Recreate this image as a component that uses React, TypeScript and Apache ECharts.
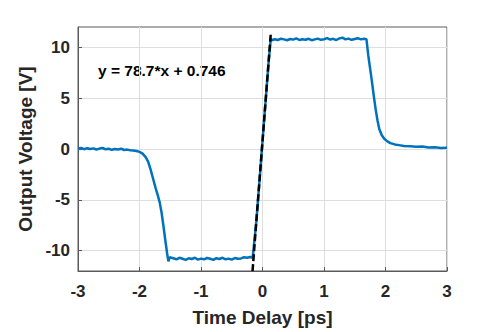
import React, { useEffect, useRef } from "react";
import * as echarts from "echarts";

const timePs = [
  -3.0, -2.95, -2.9, -2.85, -2.8, -2.75, -2.7, -2.65, -2.6, -2.55, -2.5, -2.45, -2.4, -2.35, -2.3, -2.25,
  -2.2, -2.15, -2.1, -2.05, -2.0, -1.95, -1.9, -1.86, -1.82, -1.78, -1.74, -1.7, -1.67, -1.64, -1.61,
  -1.58, -1.55, -1.53, -1.51, -1.45, -1.4, -1.35, -1.3, -1.25, -1.2, -1.15, -1.1, -1.05, -1.0, -0.95,
  -0.9, -0.85, -0.8, -0.75, -0.7, -0.65, -0.6, -0.55, -0.5, -0.45, -0.4, -0.35, -0.3, -0.25, -0.2,
  -0.16, -0.1, -0.05, 0.0, 0.05, 0.1, 0.135, 0.15, 0.2, 0.25, 0.3, 0.35, 0.4, 0.45, 0.5, 0.55, 0.6,
  0.65, 0.7, 0.75, 0.8, 0.85, 0.9, 0.95, 1.0, 1.05, 1.1, 1.15, 1.2, 1.25, 1.3, 1.35, 1.4, 1.45, 1.5,
  1.55, 1.6, 1.65, 1.69, 1.72, 1.75, 1.78, 1.81, 1.84, 1.87, 1.9, 1.94, 1.98, 2.03, 2.08, 2.15, 2.22,
  2.3, 2.4, 2.5, 2.6, 2.7, 2.8, 2.9, 3.0,
];

const voltage = [
  0.05, 0.1, -0.02, 0.08, 0.0, 0.06, -0.05, 0.04, 0.1, -0.03, 0.02, -0.08, 0.0, -0.05, 0.03, -0.1,
  -0.06, -0.12, -0.15, -0.2, -0.28, -0.45, -0.8, -1.25, -2.0, -2.9, -3.8, -4.6, -5.3, -6.3, -7.6,
  -9.0, -10.3, -11.05, -10.65, -10.75, -10.85, -10.7, -10.8, -10.9, -10.75, -10.82, -10.7, -10.88, -10.78, -10.85,
  -10.72, -10.8, -10.9, -10.74, -10.82, -10.7, -10.85, -10.78, -10.88, -10.72, -10.8, -10.76, -10.65, -10.7, -10.62,
  -10.7, -7.1, -3.2, 0.75, 4.7, 8.6, 10.85, 10.7, 10.8, 10.72, 10.85, 10.78, 10.7, 10.82, 10.76, 10.88, 10.72,
  10.8, 10.74, 10.84, 10.7, 10.78, 10.86, 10.74, 10.8, 10.9, 10.76, 10.84, 10.72, 10.88, 10.95, 10.78, 10.86, 10.74, 10.82,
  10.9, 10.78, 10.85, 10.8, 9.2, 7.9, 6.6, 5.2, 3.9, 2.8, 1.95, 1.35, 1.0, 0.75, 0.58, 0.45, 0.38,
  0.3, 0.28, 0.22, 0.25, 0.15, 0.18, 0.1, 0.12,
];

const fitSlope = 78.7;
const fitIntercept = 0.746;
const fitRangeX = [-0.162, 0.136];

const xTicks = [-3, -2, -1, 0, 1, 2, 3];
const yTicks = [-10, -5, 0, 5, 10];

const fitLabel = "y = 78.7*x + 0.746";

export default function App() {
  const ref = useRef<HTMLDivElement>(null);
  useEffect(() => {
    if (!ref.current) return;
    const chart = echarts.init(ref.current, null, { renderer: "svg" });
    const font = "'Liberation Sans', Arial, sans-serif";
    const textColor = "#262626";
    chart.setOption({
      animation: false,
      backgroundColor: "#ffffff",
      grid: {
        left: 78,
        right: 37,
        top: 27,
        bottom: 60,
        show: true,
        borderColor: "#5a5a5a",
        borderWidth: 1,
      },
      xAxis: {
        type: "value",
        min: -3,
        max: 3,
        interval: 1,
        name: "Time Delay [ps]",
        nameLocation: "middle",
        nameGap: 37,
        nameTextStyle: { fontFamily: font, fontWeight: "bold", fontSize: 19, color: textColor },
        axisLine: { show: true, onZero: false, lineStyle: { color: "#5a5a5a" } },
        axisTick: { show: true, inside: true, length: 4, lineStyle: { color: "#5a5a5a" }, customValues: xTicks },
        axisLabel: {
          customValues: xTicks,
          margin: 12,
          fontFamily: font,
          fontWeight: "bold",
          fontSize: 17,
          color: textColor,
        },
        splitLine: { show: true, lineStyle: { color: "#dedede", width: 1 } },
      },
      yAxis: {
        type: "value",
        min: -12,
        max: 12,
        name: "Output Voltage [V]",
        nameLocation: "middle",
        nameGap: 33,
        nameTextStyle: { fontFamily: font, fontWeight: "bold", fontSize: 19, color: textColor },
        axisLine: { show: true, onZero: false, lineStyle: { color: "#5a5a5a" } },
        axisTick: { show: true, inside: true, length: 4, lineStyle: { color: "#5a5a5a" }, customValues: yTicks },
        axisLabel: {
          customValues: yTicks,
          margin: 8,
          fontFamily: font,
          fontWeight: "bold",
          fontSize: 17,
          color: textColor,
        },
        splitLine: { show: true, lineStyle: { color: "#dedede", width: 1 } },
      },
      series: [
        {
          type: "line",
          data: timePs.map((t, i) => [t, voltage[i]]),
          showSymbol: false,
          lineStyle: { color: "#0072BD", width: 2.5 },
          z: 2,
        },
        {
          type: "line",
          data: fitRangeX.map((x) => [x, fitSlope * x + fitIntercept]),
          showSymbol: false,
          lineStyle: { color: "#000000", width: 2.5, type: [7, 3] },
          z: 3,
        },
      ],
      graphic: [
        {
          type: "text",
          left: 98,
          top: 62,
          style: {
            text: fitLabel,
            fontFamily: font,
            fontWeight: "bold",
            fontSize: 15.5,
            fill: "#000000",
          },
        },
      ],
    });
    return () => chart.dispose();
  }, []);
  return <div ref={ref} style={{ width: 484, height: 332, position: "absolute", left: 0, top: 0 }} />;
}
